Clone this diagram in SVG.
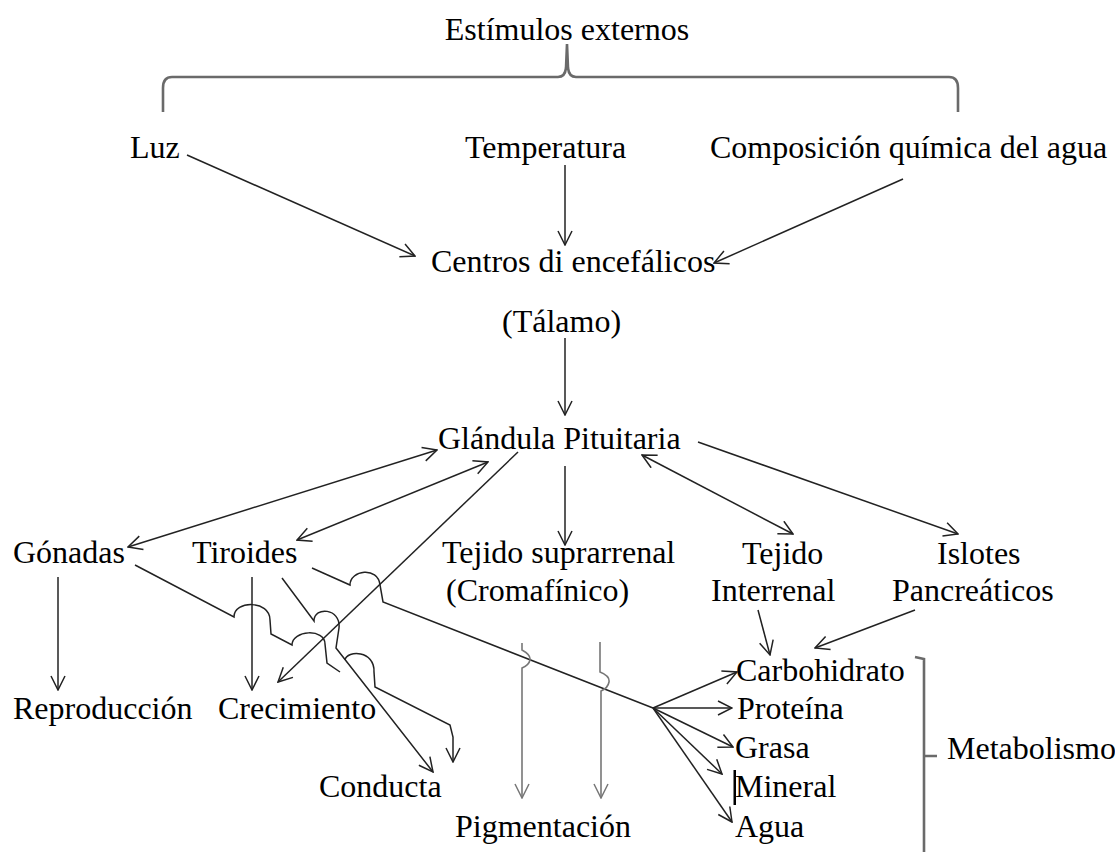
<svg xmlns="http://www.w3.org/2000/svg" width="1115" height="852" viewBox="0 0 1115 852">
<style>
text{font-family:"Liberation Serif","Times New Roman",serif;font-size:32px;fill:#000}
.c{fill:none;stroke:#222;stroke-width:1.5}
.g{fill:none;stroke:#777;stroke-width:1.6}
.b{fill:none;stroke:#6a6a6a;stroke-width:2.6}
</style>
<defs>
<marker id="a" viewBox="0 0 16 16" refX="15" refY="8" markerWidth="16" markerHeight="16" markerUnits="userSpaceOnUse" orient="auto-start-reverse">
<path d="M1,1 L15,8 L1,15" fill="none" stroke="#222" stroke-width="1.5"/>
</marker>
<marker id="ag" viewBox="0 0 16 16" refX="15" refY="8" markerWidth="16" markerHeight="16" markerUnits="userSpaceOnUse" orient="auto">
<path d="M1,1 L15,8 L1,15" fill="none" stroke="#777" stroke-width="1.5"/>
</marker>
</defs>
<g id="estimulos"><text x="567" y="40" text-anchor="middle">Estímulos externos</text>
<path class="b" d="M163,112 L163,88 Q163,77 172,77 L558,77 Q565,77 566,68 L567,44 L568,68 Q569,77 576,77 L949,77 Q958,77 958,88 L958,112"/></g>
<g id="luz"><text x="130" y="158">Luz</text></g>
<g id="temperatura"><text x="465" y="158">Temperatura</text></g>
<g id="composicion"><text x="710" y="158">Composición química del agua</text></g>
<g id="centros"><text x="431" y="272">Centros di encefálicos</text></g>
<g id="talamo"><text x="502" y="332">(Tálamo)</text></g>
<g id="glandula"><text x="438" y="449">Glándula Pituitaria</text></g>
<g id="gonadas"><text x="13" y="563">Gónadas</text></g>
<g id="tiroides"><text x="192" y="563">Tiroides</text></g>
<g id="suprarrenal"><text x="442" y="563">Tejido suprarrenal</text><text x="446" y="601">(Cromafínico)</text></g>
<g id="interrenal"><text x="742" y="564">Tejido</text><text x="711" y="601">Interrenal</text></g>
<g id="islotes"><text x="937" y="564">Islotes</text><text x="892" y="601">Pancreáticos</text></g>
<g id="reproduccion"><text x="13" y="719">Reproducción</text></g>
<g id="crecimiento"><text x="218" y="719">Crecimiento</text></g>
<g id="conducta"><text x="319" y="797">Conducta</text></g>
<g id="pigmentacion"><text x="455" y="837">Pigmentación</text></g>
<g id="carbohidrato"><text x="736" y="681">Carbohidrato</text></g>
<g id="proteina"><text x="737" y="719">Proteína</text></g>
<g id="grasa"><text x="735" y="758">Grasa</text></g>
<g id="mineral"><text x="735" y="797">Mineral</text><rect x="733.5" y="770" width="2.5" height="35" fill="#000"/></g>
<g id="agua"><text x="735" y="837">Agua</text></g>
<g id="metabolismo"><text x="947" y="759">Metabolismo</text>
<path class="b" d="M915,657 L924,659 L924,852 M924,756 L937,756"/></g>
<g id="connectors">
<path class="c" marker-end="url(#a)" d="M187,155 L415,256"/>
<path class="c" marker-end="url(#a)" d="M565,165 L565,245"/>
<path class="c" marker-end="url(#a)" d="M903,179 L714,263"/>
<path class="c" marker-end="url(#a)" d="M565,338 L565,415"/>
<path class="c" marker-start="url(#a)" marker-end="url(#a)" d="M128,547 L437,450"/>
<path class="c" marker-start="url(#a)" marker-end="url(#a)" d="M297,540 L488,462"/>
<path class="c" marker-end="url(#a)" d="M518,452 L278,682"/>
<path class="c" marker-end="url(#a)" d="M565,466 L565,545"/>
<path class="c" marker-start="url(#a)" marker-end="url(#a)" d="M642,455 L793,534"/>
<path class="c" marker-end="url(#a)" d="M698,442 L958,534"/>
<path class="c" marker-end="url(#a)" d="M758,610 L770,655"/>
<path class="c" marker-end="url(#a)" d="M915,610 L815,648"/>
<path class="c" marker-end="url(#a)" d="M58,577 L58,690"/>
<path class="c" marker-end="url(#a)" d="M252,577 L252,690"/>
<path class="c" d="M312,568 L350,585 C350,570 378,566 380,585 L383,602 L653,708"/>
<path class="c" marker-end="url(#a)" d="M653,708 L737,672"/>
<path class="c" marker-end="url(#a)" d="M653,708 L732,708"/>
<path class="c" marker-end="url(#a)" d="M653,708 L733,747"/>
<path class="c" marker-end="url(#a)" d="M653,708 L722,774"/>
<path class="c" marker-end="url(#a)" d="M653,708 L732,822"/>
<path class="c" d="M135,565 L234,617 C234,600 270,600 270,620 L271,634 L292,645 C292,630 325,628 325,644 L327,663 L340,672"/>
<path class="c" marker-end="url(#a)" d="M282,578 L314,621 C314,606 341,608 339,628 L336,648 L433,772"/>
<path class="c" marker-end="url(#a)" d="M345,660 C347,650 375,650 374,672 L375,687 L450,725 L453,737 L453,762"/>
<path class="g" marker-end="url(#ag)" d="M522,643 L522,650 Q531,655 530,660 Q529,665 522,668 L522,798"/>
<path class="g" marker-end="url(#ag)" d="M600,642 L600,672 Q610,676 609,682 Q608,688 601,691 L601,798"/>
</g>
</svg>
